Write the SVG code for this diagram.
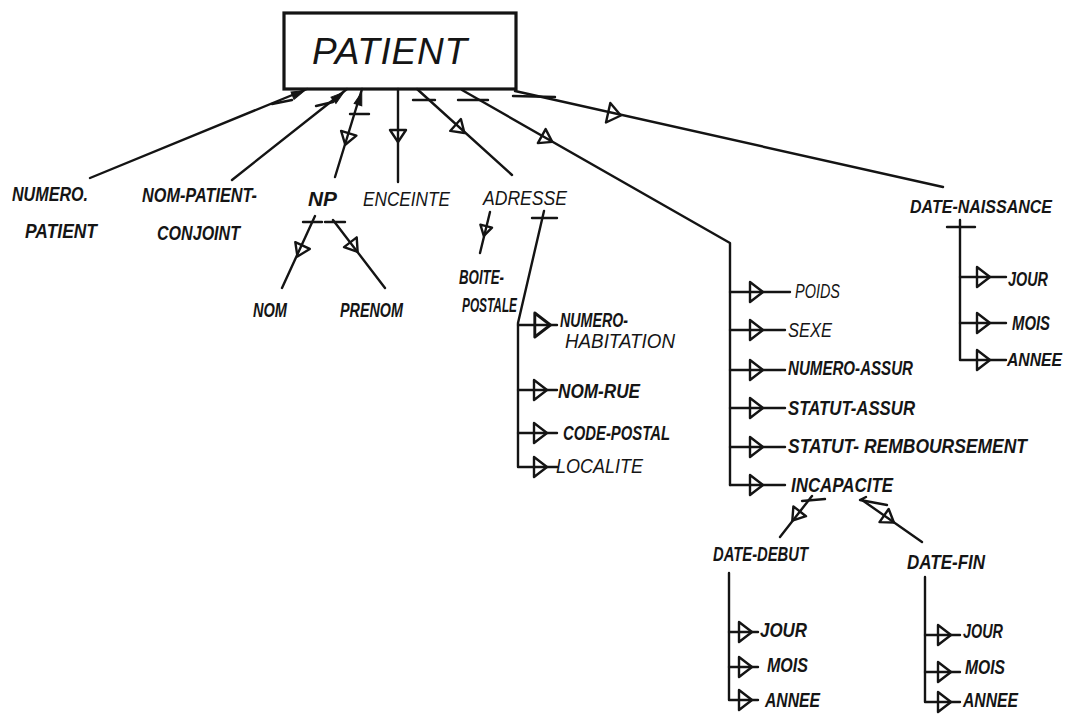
<svg xmlns="http://www.w3.org/2000/svg" width="1076" height="714" viewBox="0 0 1076 714">
<style>
.ln{stroke:#141414;stroke-width:2.4;fill:none;stroke-linecap:round;stroke-linejoin:round}
.lb{font-family:"Liberation Sans",Arial,sans-serif;font-style:italic;font-weight:bold;font-size:20px;fill:#151515}
.lt{font-family:"Liberation Sans",Arial,sans-serif;font-style:italic;font-size:20px;fill:#151515}
.sm{font-size:18px}
.title{font-family:"Liberation Sans",Arial,sans-serif;font-style:italic;font-size:37px;fill:#151515}
</style>
<defs>
<path id="tL" d="M-6,-10 L7,0 L-6,10 Z" fill="none" stroke="#141414" stroke-width="2.4" stroke-linejoin="round"/>
<path id="tM" d="M-6,-8 L6,0 L-6,8 Z" fill="none" stroke="#141414" stroke-width="2.4" stroke-linejoin="round"/>
<path id="tS" d="M-5,-6 L5,0 L-5,6 Z" fill="none" stroke="#141414" stroke-width="2.4" stroke-linejoin="round"/>
<path id="fa" d="M-7,-4 L6,0 L-7,4 Z" fill="#141414" stroke="#141414" stroke-width="1"/>
</defs>
<rect width="1076" height="714" fill="#ffffff"/>

<g id="connectors">
  <path class="ln" d="M90,178 L307,89"/>
  <path class="ln" d="M272,104 L292,100"/>
  <use href="#fa" transform="translate(299,93) rotate(-22)"/>

  <path class="ln" d="M232,180 L347,89"/>
  <path class="ln" d="M316,106 L333,102"/>
  <use href="#fa" transform="translate(339,96) rotate(-38)"/>

  <path class="ln" d="M362,89 L335,177"/>
  <use href="#fa" transform="translate(360,98) rotate(-73)"/>
  <path class="ln" d="M350,114 L369,114"/>
  <use href="#tM" transform="translate(347,139) rotate(107)"/>

  <path class="ln" d="M398,89 L398,182"/>
  <use href="#tM" transform="translate(398,136) rotate(90)"/>

  <path class="ln" d="M417,89 L512,175"/>
  <path class="ln" d="M413,100 L435,100"/>
  <use href="#tM" transform="translate(460,129) rotate(42)"/>

  <path class="ln" d="M462,90 L730,243 L730,485"/>
  <path class="ln" d="M458,100 L488,100"/>
  <use href="#tM" transform="translate(547,139) rotate(29)"/>

  <path class="ln" d="M515,91 L943,187"/>
  <path class="ln" d="M513,96 L555,97"/>
  <use href="#tL" transform="translate(614,114) rotate(12.5)"/>

  <path class="ln" d="M303,222 L322,222"/>
  <path class="ln" d="M325,222 L345,222"/>
  <path class="ln" d="M315,216 L282,288"/>
  <use href="#tM" transform="translate(300,251) rotate(115)"/>
  <path class="ln" d="M333,220 L385,288"/>
  <use href="#tM" transform="translate(354,247) rotate(52.6)"/>

  <path class="ln" d="M490,212 L480,253"/>
  <use href="#tS" transform="translate(485,231) rotate(104)"/>
  <path class="ln" d="M532,218 L557,218"/>
  <path class="ln" d="M544,211 L518,323 L518,467 L557,467"/>
  <path class="ln" d="M518,325 L557,325"/>
  <path class="ln" d="M518,390 L557,390"/>
  <path class="ln" d="M518,433 L557,433"/>
  <use href="#tL" transform="translate(542,325) scale(1.2)"/>
  <use href="#tL" transform="translate(540,390)"/>
  <use href="#tL" transform="translate(540,433)"/>
  <use href="#tL" transform="translate(540,467)"/>

  <path class="ln" d="M730,292 L790,292"/>
  <path class="ln" d="M730,330 L785,330"/>
  <path class="ln" d="M730,370 L785,370"/>
  <path class="ln" d="M730,408 L785,408"/>
  <path class="ln" d="M730,447 L785,447"/>
  <path class="ln" d="M730,485 L785,485"/>
  <use href="#tL" transform="translate(756,292)"/>
  <use href="#tL" transform="translate(756,330)"/>
  <use href="#tL" transform="translate(756,370)"/>
  <use href="#tL" transform="translate(756,408)"/>
  <use href="#tL" transform="translate(756,447)"/>
  <use href="#tL" transform="translate(756,485)"/>

  <path class="ln" d="M802,501 L825,499"/>
  <path class="ln" d="M812,496 L780,537"/>
  <use href="#tM" transform="translate(796,516) rotate(128)"/>
  <path class="ln" d="M860,500 L887,505 M860,500 L866,497"/>
  <path class="ln" d="M862,500 L922,542"/>
  <use href="#tM" transform="translate(889,519) rotate(35)"/>

  <path class="ln" d="M729,573 L729,700 L758,700"/>
  <path class="ln" d="M729,632 L758,632"/>
  <path class="ln" d="M729,667 L758,667"/>
  <use href="#tL" transform="translate(745,632)"/>
  <use href="#tL" transform="translate(745,667)"/>
  <use href="#tL" transform="translate(745,700)"/>

  <path class="ln" d="M925,577 L925,702 L960,702"/>
  <path class="ln" d="M925,635 L960,635"/>
  <path class="ln" d="M925,672 L960,672"/>
  <use href="#tL" transform="translate(944,635)"/>
  <use href="#tL" transform="translate(944,672)"/>
  <use href="#tL" transform="translate(944,702)"/>

  <path class="ln" d="M947,227 L975,227"/>
  <path class="ln" d="M960,220 L960,360 L1006,360"/>
  <path class="ln" d="M960,277 L1006,277"/>
  <path class="ln" d="M960,323 L1006,323"/>
  <use href="#tL" transform="translate(983,277)"/>
  <use href="#tL" transform="translate(983,323)"/>
  <use href="#tL" transform="translate(983,360)"/>
</g>

<g id="node-patient">
  <rect x="284" y="13" width="232" height="76" fill="none" stroke="#141414" stroke-width="3.2"/>
  <text class="title" x="312" y="64" textLength="155" lengthAdjust="spacing">PATIENT</text>
</g>
<g id="node-numero-patient">
  <text class="lb" x="12" y="201" textLength="76" lengthAdjust="spacingAndGlyphs">NUMERO.</text>
  <text class="lb" x="25" y="238" textLength="72" lengthAdjust="spacingAndGlyphs">PATIENT</text>
</g>
<g id="node-nom-patient-conjoint">
  <text class="lb" x="142" y="202" textLength="115" lengthAdjust="spacingAndGlyphs">NOM-PATIENT-</text>
  <text class="lb" x="157" y="240" textLength="83" lengthAdjust="spacingAndGlyphs">CONJOINT</text>
</g>
<g id="node-np"><text class="lb" x="308" y="206" textLength="29" lengthAdjust="spacingAndGlyphs">NP</text></g>
<g id="node-enceinte"><text class="lt" x="363" y="206" textLength="87" lengthAdjust="spacingAndGlyphs">ENCEINTE</text></g>
<g id="node-adresse"><text class="lt" x="483" y="205" textLength="84" lengthAdjust="spacingAndGlyphs">ADRESSE</text></g>
<g id="node-nom"><text class="lb" x="253" y="317" textLength="34" lengthAdjust="spacingAndGlyphs">NOM</text></g>
<g id="node-prenom"><text class="lb" x="340" y="317" textLength="63" lengthAdjust="spacingAndGlyphs">PRENOM</text></g>
<g id="node-boite-postale">
  <text class="lb" x="459" y="284" textLength="45" lengthAdjust="spacingAndGlyphs">BOITE-</text>
  <text class="lb" x="462" y="312" textLength="55" lengthAdjust="spacingAndGlyphs">POSTALE</text>
</g>
<g id="node-numero-habitation">
  <text class="lb" x="560" y="327" textLength="68" lengthAdjust="spacingAndGlyphs">NUMERO-</text>
  <text class="lt" x="565" y="348" textLength="110" lengthAdjust="spacingAndGlyphs">HABITATION</text>
</g>
<g id="node-nom-rue"><text class="lb" x="558" y="398" textLength="82" lengthAdjust="spacingAndGlyphs">NOM-RUE</text></g>
<g id="node-code-postal"><text class="lb" x="563" y="440" textLength="107" lengthAdjust="spacingAndGlyphs">CODE-POSTAL</text></g>
<g id="node-localite"><text class="lt" x="556" y="473" textLength="87" lengthAdjust="spacingAndGlyphs">LOCALITE</text></g>
<g id="node-poids"><text class="lt" x="795" y="298" textLength="45" lengthAdjust="spacingAndGlyphs">POIDS</text></g>
<g id="node-sexe"><text class="lt" x="788" y="337" textLength="44" lengthAdjust="spacingAndGlyphs">SEXE</text></g>
<g id="node-numero-assur"><text class="lb" x="788" y="375" textLength="125" lengthAdjust="spacingAndGlyphs">NUMERO-ASSUR</text></g>
<g id="node-statut-assur"><text class="lb" x="788" y="415" textLength="127" lengthAdjust="spacingAndGlyphs">STATUT-ASSUR</text></g>
<g id="node-statut-remboursement"><text class="lb" x="788" y="453" textLength="239" lengthAdjust="spacingAndGlyphs">STATUT- REMBOURSEMENT</text></g>
<g id="node-incapacite"><text class="lb" x="791" y="492" textLength="102" lengthAdjust="spacingAndGlyphs">INCAPACITE</text></g>
<g id="node-date-debut">
  <text class="lb" x="713" y="561" textLength="95" lengthAdjust="spacingAndGlyphs">DATE-DEBUT</text>
  <text class="lb" x="760" y="637" textLength="47" lengthAdjust="spacingAndGlyphs">JOUR</text>
  <text class="lb" x="767" y="672" textLength="41" lengthAdjust="spacingAndGlyphs">MOIS</text>
  <text class="lb" x="765" y="707" textLength="55" lengthAdjust="spacingAndGlyphs">ANNEE</text>
</g>
<g id="node-date-fin">
  <text class="lb" x="907" y="569" textLength="78" lengthAdjust="spacingAndGlyphs">DATE-FIN</text>
  <text class="lb" x="963" y="638" textLength="40" lengthAdjust="spacingAndGlyphs">JOUR</text>
  <text class="lb" x="965" y="674" textLength="40" lengthAdjust="spacingAndGlyphs">MOIS</text>
  <text class="lb" x="963" y="707" textLength="55" lengthAdjust="spacingAndGlyphs">ANNEE</text>
</g>
<g id="node-date-naissance">
  <text class="lb sm" x="910" y="213" textLength="142" lengthAdjust="spacingAndGlyphs">DATE-NAISSANCE</text>
  <text class="lb" x="1008" y="286" textLength="40" lengthAdjust="spacingAndGlyphs">JOUR</text>
  <text class="lb" x="1012" y="330" textLength="38" lengthAdjust="spacingAndGlyphs">MOIS</text>
  <text class="lb sm" x="1007" y="366" textLength="55" lengthAdjust="spacingAndGlyphs">ANNEE</text>
</g>
</svg>
